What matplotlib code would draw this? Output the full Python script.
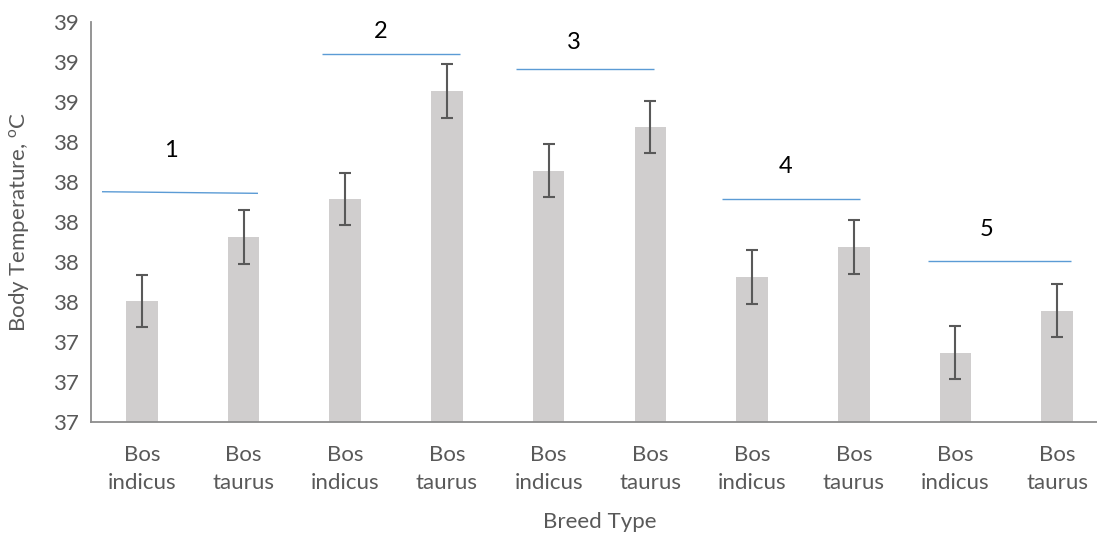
import matplotlib
matplotlib.use('Agg')
import matplotlib.pyplot as plt
from matplotlib.ticker import FuncFormatter, MultipleLocator
import numpy as np

plt.rcParams['font.family'] = ['Lato', 'DejaVu Sans']
plt.rcParams['mathtext.fontset'] = 'custom'
plt.rcParams['mathtext.rm'] = 'Lato'

breeds = ['Bos\nindicus', 'Bos\ntaurus'] * 5
temps = [37.606, 37.926, 38.116, 38.655, 38.256, 38.475, 37.726, 37.876, 37.348, 37.558]
errs = [0.132, 0.134, 0.132, 0.134, 0.132, 0.132, 0.133, 0.134, 0.133, 0.132]

# group brackets: label, x start, x end, y start, y end, label x, label y
groups = ['1', '2', '3', '4', '5']
bracket_x0 = [-0.392, 1.771, 3.679, 5.705, 7.731]
bracket_x1 = [1.142, 3.128, 5.036, 7.062, 9.133]
bracket_y0 = [38.152, 38.842, 38.764, 38.114, 37.804]
bracket_y1 = [38.144, 38.842, 38.764, 38.114, 37.804]
label_x = [0.284, 2.352, 4.25, 6.33, 8.307]
label_y = [38.36, 38.952, 38.90, 38.28, 37.965]

fig = plt.figure(figsize=(10.97, 5.33), dpi=100)
ax = fig.add_axes([91 / 1097, 110.7 / 533, 1017 / 1097, 400.3 / 533])

x = np.arange(len(temps))
ax.bar(x, temps, width=0.31, color='#d0cece', bottom=0)
ax.errorbar(x, temps, yerr=errs, fmt='none', ecolor='#595959',
            elinewidth=1.5, capsize=4.2, capthick=1.5)

for i in range(len(groups)):
    ax.plot([bracket_x0[i], bracket_x1[i]], [bracket_y0[i], bracket_y1[i]],
            color='#5b9bd5', lw=1.0, solid_capstyle='butt')
    ax.text(label_x[i], label_y[i], groups[i], ha='center', va='center',
            fontsize=17, color='black')

ax.set_xlim(-0.5, 9.5)
ax.set_ylim(37, 39)
ax.yaxis.set_major_locator(MultipleLocator(0.2))
ax.yaxis.set_major_formatter(FuncFormatter(lambda v, p: f'{int(np.floor(v + 0.5))}'))
ax.set_xticks(x)
ax.set_xticklabels(breeds, linespacing=1.55)
ax.tick_params(axis='both', length=0, labelsize=16, labelcolor='#595959')
ax.tick_params(axis='x', pad=16)
ax.tick_params(axis='y', pad=9)

for side in ['top', 'right']:
    ax.spines[side].set_visible(False)
for side in ['left', 'bottom']:
    ax.spines[side].set_color('#8c8c8c')
    ax.spines[side].set_linewidth(1.3)

ax.set_xlabel('Breed Type', fontsize=16, color='#595959', va='center')
ax.set_ylabel('Body Temperature, $^{\\rm o}$C', fontsize=16, color='#595959', va='center')
ax.xaxis.set_label_coords(509 / 1017, (422.3 - 522) / 400.3)
ax.yaxis.set_label_coords((20 - 91) / 1017, 0.5)

fig.savefig('out.png', dpi=100)
